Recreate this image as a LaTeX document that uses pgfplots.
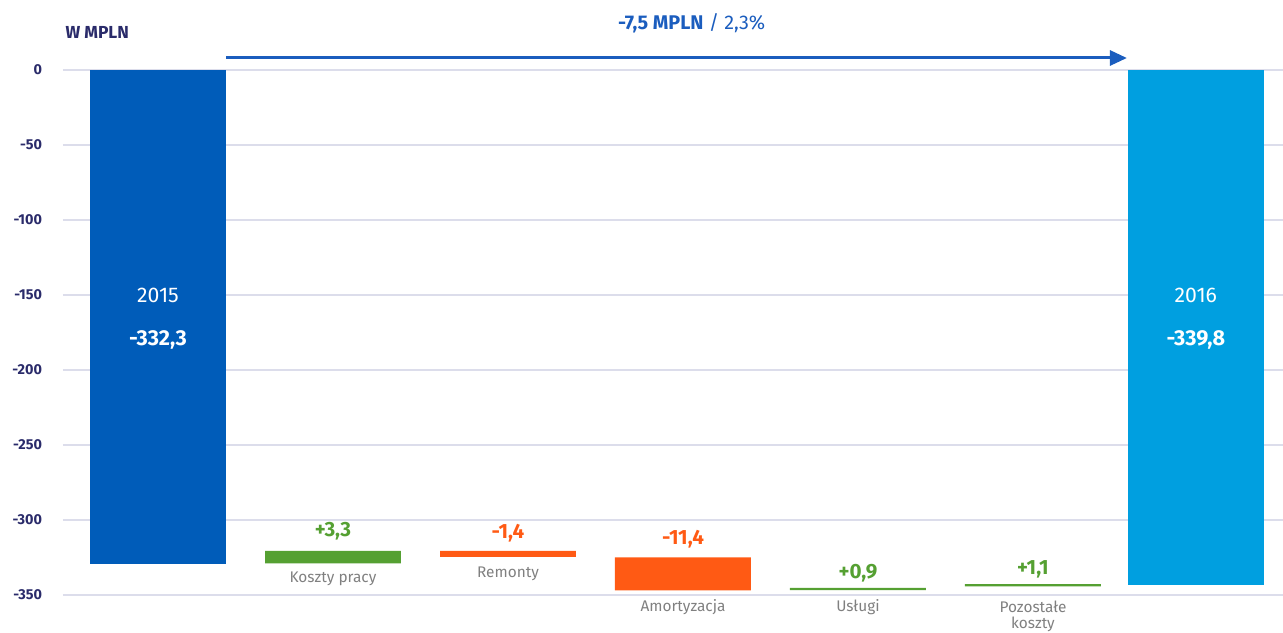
\documentclass[border=0pt]{standalone}
\usepackage{pgfplots}
\pgfplotsset{compat=1.18}
\usepackage{fontspec}
\setmainfont{Fira Sans}
\usetikzlibrary{arrows.meta}
\definecolor{dblue}{HTML}{005CB9}
\definecolor{lblue}{HTML}{009FE0}
\definecolor{cgreen}{HTML}{55A032}
\definecolor{corange}{HTML}{FF5A14}
\definecolor{navy}{HTML}{2A2B6A}
\definecolor{hblue}{HTML}{1B5DBE}
\definecolor{lgray}{HTML}{808080}
\definecolor{gridc}{HTML}{DCDDEB}
\pgfplotsset{
  frame/.style={
    at={(31.5pt,18.5pt)}, anchor=south west,
    scale only axis, width=610pt, height=262.5pt,
    xmin=-0.543, xmax=6.429, ymin=-350, ymax=0,
    enlargelimits=false, clip=false,
  },
}
\begin{document}
\begin{tikzpicture}
\useasboundingbox (0,0) rectangle (641.5pt,316pt);
\begin{axis}[
  frame,
  ybar stacked, bar width=0.777,
  xtick=\empty,
  ytick={-350,-300,...,0},
  ymajorgrids, grid style={gridc, line width=0.6pt},
  axis line style={draw=none},
  major tick length=0pt,
  yticklabel style={font=\fontsize{7.2}{8}\selectfont\bfseries, text=navy, xshift=-7pt},
  /pgf/number format/assume math mode=true,
]
% invisible base of the floating bars
\addplot [draw=none, fill=none] coordinates {
  (0,0) (1,-320.5) (2,-320.5) (3,-324.9) (4,-345.3) (5,-342.8) (5.931,0)};
% 2015
\addplot [draw=none, fill=dblue] coordinates {
  (0,-329.5) (1,0) (2,0) (3,0) (4,0) (5,0) (5.931,0)};
% 2016
\addplot [draw=none, fill=lblue] coordinates {
  (0,0) (1,0) (2,0) (3,0) (4,0) (5,0) (5.931,-343.5)};
% increases
\addplot [draw=none, fill=cgreen] coordinates {
  (0,0) (1,-8.4) (2,0) (3,0) (4,-1.4) (5,-1.4) (5.931,0)};
% decreases
\addplot [draw=none, fill=corange] coordinates {
  (0,0) (1,0) (2,-4.0) (3,-22.0) (4,0) (5,0) (5.931,0)};
\end{axis}

% second, hidden axis on top for the texts
\begin{axis}[frame, hide axis]
% labels inside the end bars
\node[text=white, font=\fontsize{10.6}{12}\selectfont] at (0,-150) {2015};
\node[text=white, font=\fontsize{10.8}{12}\selectfont\bfseries] at (0,-180) {-332,3};
\node[text=white, font=\fontsize{10.6}{12}\selectfont] at (5.931,-150) {2016};
\node[text=white, font=\fontsize{10.8}{12}\selectfont\bfseries] at (5.931,-180) {-339,8};

% change values
\node[text=cgreen, font=\fontsize{10.3}{12}\selectfont\bfseries] at (1,-307.8) {+3,3};
\node[text=corange, font=\fontsize{10.3}{12}\selectfont\bfseries] at (2,-308.5) {-1,4};
\node[text=corange, font=\fontsize{10.3}{12}\selectfont\bfseries] at (3,-312.7) {-11,4};
\node[text=cgreen, font=\fontsize{10.3}{12}\selectfont\bfseries] at (4,-335.3) {+0,9};
\node[text=cgreen, font=\fontsize{10.3}{12}\selectfont\bfseries] at (5,-332.7) {+1,1};

% category names
\node[text=lgray, font=\fontsize{7.7}{9.5}\selectfont] at (1,-339.3) {Koszty pracy};
\node[text=lgray, font=\fontsize{7.7}{9.5}\selectfont] at (2,-336) {Remonty};
\node[text=lgray, font=\fontsize{7.7}{9.5}\selectfont] at (3,-357.8) {Amortyzacja};
\node[text=lgray, font=\fontsize{7.7}{9.5}\selectfont] at (4,-357.8) {Usługi};
\node[text=lgray, font=\fontsize{7.7}{9.5}\selectfont] at (5,-357.8) {Pozostałe};
\node[text=lgray, font=\fontsize{7.7}{9.5}\selectfont] at (5,-369.5) {koszty};

% unit and total change
\node[anchor=west, text=navy, font=\fontsize{8.7}{10}\selectfont\bfseries, inner sep=0pt] at (-0.531,24.7) {W MPLN};
\node[text=hblue, font=\fontsize{9.9}{11}\selectfont] at (3.05,31.3) {\textbf{-7,5 MPLN} / 2,3\%};
\draw[hblue, line width=1.5pt, -{Triangle[length=8.5pt,width=7.5pt]}] (0.389,8) -- (5.537,8);
\end{axis}
\end{tikzpicture}
\end{document}
